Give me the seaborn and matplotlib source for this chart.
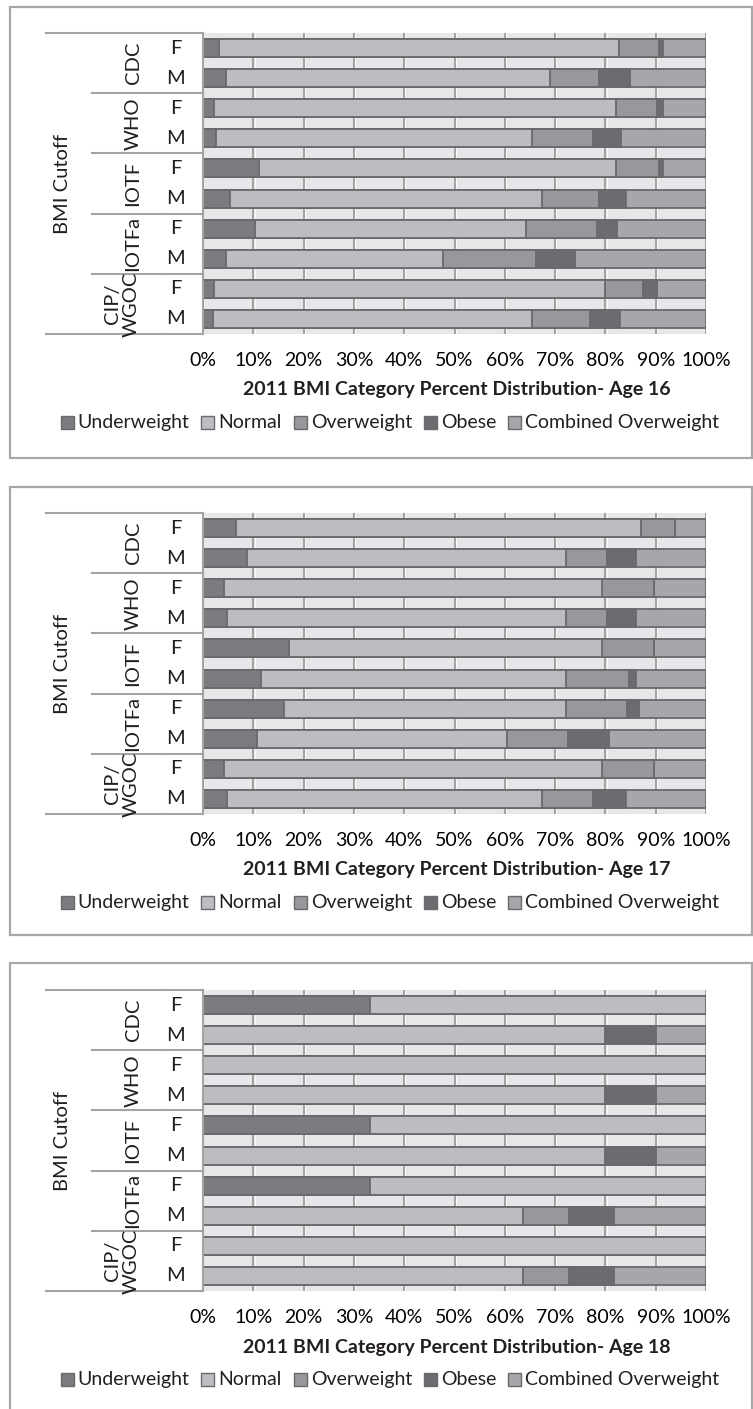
import matplotlib.pyplot as plt
import matplotlib.transforms as mtransforms
from matplotlib.patches import Rectangle
import numpy as np
import pandas as pd
import seaborn as sns

# data (percent of bar length per segment)
cutoffs = ['CDC', 'WHO', 'IOTF', 'IOTFa', 'CIP/\nWGOC']
sexes = ['F', 'M']
categories = ['Underweight', 'Normal', 'Overweight', 'Obese', 'Combined Overweight']
ages = [16, 17, 18]

# rows: CDC F, CDC M, WHO F, WHO M, IOTF F, IOTF M, IOTFa F, IOTFa M, CIP F, CIP M
underweight_16 = [3.2, 4.6, 2.1, 2.5, 11.2, 5.4, 10.4, 4.6, 2.1, 2.0]
normal_16 = [79.6, 64.3, 80.0, 63.0, 70.9, 61.9, 53.8, 43.1, 77.9, 63.4]
overweight_16 = [7.9, 9.8, 8.2, 12.0, 8.6, 11.4, 14.1, 18.5, 7.4, 11.6]
obese_16 = [0.7, 6.1, 1.1, 5.7, 0.7, 5.3, 4.1, 7.8, 2.8, 6.0]
combined_16 = [8.6, 15.2, 8.6, 16.8, 8.6, 16.0, 17.6, 26.0, 9.8, 17.0]

underweight_17 = [6.6, 8.7, 4.2, 4.7, 17.0, 11.6, 16.2, 10.8, 4.2, 4.7]
normal_17 = [80.5, 63.5, 75.1, 67.5, 62.3, 60.6, 56.0, 49.7, 75.1, 62.6]
overweight_17 = [6.7, 8.2, 10.4, 8.2, 10.4, 12.4, 12.0, 12.1, 10.4, 10.3]
obese_17 = [0.0, 5.7, 0.0, 5.7, 0.0, 1.5, 2.4, 8.1, 0.0, 6.5]
combined_17 = [6.2, 13.9, 10.3, 13.9, 10.3, 13.9, 13.4, 19.3, 10.3, 15.9]

underweight_18 = [33.3, 0, 0, 0, 33.3, 0, 33.3, 0, 0, 0]
normal_18 = [66.7, 80.0, 100.0, 80.0, 66.7, 80.0, 66.7, 63.6, 100.0, 63.6]
overweight_18 = [0, 0, 0, 0, 0, 0, 0, 9.1, 0, 9.1]
obese_18 = [0, 10.0, 0, 10.0, 0, 10.0, 0, 9.1, 0, 9.1]
combined_18 = [0, 10.0, 0, 10.0, 0, 10.0, 0, 18.2, 0, 18.2]

panels = {
    16: [underweight_16, normal_16, overweight_16, obese_16, combined_16],
    17: [underweight_17, normal_17, overweight_17, obese_17, combined_17],
    18: [underweight_18, normal_18, overweight_18, obese_18, combined_18],
}

colors = ['#7b7c7f', '#bcbdc0', '#97989b', '#6b6c6f', '#a6a7aa']
edge = '#68696c'
line_gray = '#a3a3a3'

plt.rcParams['font.family'] = ['Lato', 'DejaVu Sans']
plt.rcParams['text.color'] = '#231f20'

W, H = 753, 1409
fig = plt.figure(figsize=(W / 100, H / 100), dpi=100)
renderer = fig.canvas.get_renderer()

rows = [f'{c}|{s}' for c in cutoffs for s in sexes]
tops = [33, 513, 990]
box_tops = [7, 487, 963]
box_bottoms = [458, 935, 1430]


def fx(px):
    return px / W


def fy(py):
    return 1 - py / H


# legend entry widths (square + text), measured once
sq, gap_txt, gap_item = 13, 4, 12
text_w = []
for cat in categories:
    t = fig.text(0, 0, cat, fontsize=14)
    text_w.append(t.get_window_extent(renderer).width)
    t.remove()
legend_w = sum(sq + gap_txt + w for w in text_w) + gap_item * (len(categories) - 1)

for age, top, btop, bbot in zip(ages, tops, box_tops, box_bottoms):
    fig.add_artist(Rectangle((fx(10), fy(bbot)), fx(752 - 10), (bbot - btop) / H,
                             transform=fig.transFigure, fill=False,
                             edgecolor='#a8a8a8', lw=1.6))

    ax = fig.add_axes([fx(203), fy(top + 301), fx(706 - 203), 301 / H])
    ax.set_facecolor('#e6e7e8')

    df = pd.DataFrame({'row': rows})
    for cat, vals in zip(categories, panels[age]):
        df[cat] = vals
    cum = df[categories].cumsum(axis=1)
    cum['row'] = df['row']

    for x in range(10, 101, 10):
        ax.axvline(x, color=line_gray, lw=1.5, zorder=0)
        ax.axvline(x + 0.25, color='white', lw=0.6, zorder=0)

    # draw from the longest cumulative segment to the shortest so they stack
    for cat, col in reversed(list(zip(categories, colors))):
        sns.barplot(data=cum, x=cat, y='row', order=rows, color=col,
                    saturation=1, width=0.6, edgecolor=edge, linewidth=1.3,
                    orient='h', errorbar=None, ax=ax)

    ax.set_xlim(0, 100)
    ax.set_ylim(9.5, -0.5)
    ax.set_xticks(range(0, 101, 10))
    ax.set_xticklabels([f'{v}%' for v in range(0, 101, 10)], fontsize=14)
    ax.tick_params(axis='x', length=0, pad=13)
    ax.tick_params(axis='y', left=False, labelleft=False)
    ax.set_xlabel('')
    ax.set_ylabel('')
    for s in ['top', 'bottom', 'right']:
        ax.spines[s].set_visible(False)
    ax.spines['left'].set_color(line_gray)
    ax.spines['left'].set_linewidth(1.5)

    # multi-level category labels
    tr = mtransforms.blended_transform_factory(fig.transFigure, ax.transData)
    for i, r in enumerate(rows):
        ax.text(fx(176), i, r.split('|')[1], transform=tr, ha='center',
                va='center', fontsize=14.5)
    for g, c in enumerate(cutoffs):
        xpos = 122 if '\n' in c else 133
        ax.text(fx(xpos), 2 * g + 0.5, c, transform=tr, ha='center', va='center',
                rotation=90, fontsize=14.5, linespacing=1.15)
    ax.text(fx(62), 4.5, 'BMI Cutoff', transform=tr, ha='center', va='center',
            rotation=90, fontsize=14.5)
    for y, x0 in [(-0.5, 46), (1.5, 92), (3.5, 92), (5.5, 92), (7.5, 92), (9.5, 46)]:
        ax.plot([fx(x0), fx(164)], [y, y], transform=tr, color=line_gray,
                lw=1.5, clip_on=False)
        ax.plot([fx(166), fx(203)], [y, y], transform=tr, color=line_gray,
                lw=1.5, clip_on=False)

    fig.text(fx(457), fy(top + 357), f'2011 BMI Category Percent Distribution- Age {age}',
             ha='center', va='center', fontsize=14, fontweight='bold')

    # legend, laid out by hand so all labels share one baseline
    ly = top + 389
    x = 390 - legend_w / 2
    for cat, col, w in zip(categories, colors, text_w):
        fig.add_artist(Rectangle((fx(x), fy(ly + sq / 2)), fx(sq), sq / H,
                                 transform=fig.transFigure, facecolor=col,
                                 edgecolor=edge, lw=1.0))
        fig.text(fx(x + sq + gap_txt), fy(ly + 6), cat, fontsize=14,
                 ha='left', va='baseline')
        x += sq + gap_txt + w + gap_item

fig.savefig('out.png', dpi=100)
